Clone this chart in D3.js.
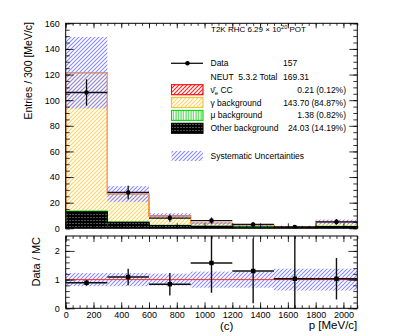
<!DOCTYPE html>
<html>
<head>
<meta charset="utf-8">
<script src="https://cdn.jsdelivr.net/npm/d3@7"></script>
<style>
  body { margin: 0; background: #fff; }
  svg { font-family: "Liberation Sans", Arial, sans-serif; }
</style>
</head>
<body>
<svg id="chart" width="411" height="336"></svg>
<script>
// bins of 300 MeV/c
const binEdges = [0, 300, 600, 900, 1200, 1500, 1800, 2100];

// data and MC stack
const dataCounts = [106, 28, 8, 6, 3, 1, 5];
const dataErr = [10.3, 5.3, 2.8, 2.4, 1.7, 1.0, 2.2];
const otherBkg = [12.8, 4.6, 2.2, 1.5, 1.0, 0.6, 1.4];
const muBkg = [0.6, 0.3, 0.15, 0.1, 0.08, 0.05, 0.1];
const gammaBkg = [108.0, 21.8, 7.3, 2.2, 1.2, 0.34, 3.4];
const nueCC = [0.06, 0.05, 0.03, 0.02, 0.02, 0.01, 0.02];
const sysRel = [0.23, 0.23, 0.21, 0.28, 0.28, 0.38, 0.38];

// ratio panel
const ratioVal = [0.89, 1.09, 0.84, 1.58, 1.30, 1.03, 1.03];
const ratioLo = [0.79, 0.80, 0.45, 0.54, 0.18, 0.0, 0.31];
const ratioHi = [0.99, 1.38, 1.23, 2.70, 2.43, 2.60, 1.75];

// legend
const legendLabels = ["Data", "NEUT\u00a0 5.3.2 Total", "nue", "\u03b3 background",
  "\u03bc background", "Other background", "Systematic Uncertainties"];
const legendValues = ["157", "169.31", "0.21 (0.12%)", "143.70 (84.87%)",
  "1.38 (0.82%)", "24.03 (14.19%)", ""];

const svg = d3.select("#chart");
const X0 = 65.7, X1 = 357.3;
const x = d3.scaleLinear().domain([0, 2100]).range([X0, X1]);
const yTop = d3.scaleLinear().domain([0, 160]).range([228.3, 23.3]);
const yRat = d3.scaleLinear().domain([0, 2.52]).range([308.3, 236]);

// ---- hatch patterns
const defs = svg.append("defs");
function hatch(id, color, w) {
  const p = defs.append("pattern").attr("id", id)
    .attr("patternUnits", "userSpaceOnUse").attr("width", 4).attr("height", 4);
  p.append("path").attr("d", "M0,4 L4,0 M-1,1 L1,-1 M3,5 L5,3")
    .attr("fill", "none").attr("stroke", color).attr("stroke-width", w);
}
hatch("hYellow", "#ffd464", 1.1);
hatch("hRed", "#ff2020", 1.1);
hatch("hBlue", "#8787ff", 1.05);
const pg = defs.append("pattern").attr("id", "hGreen")
  .attr("patternUnits", "userSpaceOnUse").attr("width", 2.5).attr("height", 4);
pg.append("path").attr("d", "M1,0 V4").attr("stroke", "#22cc22").attr("stroke-width", 0.9);
const pb = defs.append("pattern").attr("id", "hBlack")
  .attr("patternUnits", "userSpaceOnUse").attr("width", 3).attr("height", 3);
pb.append("rect").attr("width", 3).attr("height", 3).attr("fill", "#000");
pb.append("rect").attr("x", 0).attr("y", 1).attr("width", 2).attr("height", 0.8).attr("fill", "#666");

defs.append("clipPath").attr("id", "clipTop").append("rect")
  .attr("x", X0).attr("y", 23.3).attr("width", X1 - X0).attr("height", 228.3 - 23.3);
defs.append("clipPath").attr("id", "clipRat").append("rect")
  .attr("x", X0).attr("y", 236).attr("width", X1 - X0).attr("height", 308.3 - 236);

const bins = d3.range(dataCounts.length);

// ---- stack
const layers = [
  { vals: otherBkg, fill: "url(#hBlack)", line: "#000" },
  { vals: muBkg, fill: "url(#hGreen)", line: "#00dd00" },
  { vals: gammaBkg, fill: "url(#hYellow)", line: "#ffbf2e" },
  { vals: nueCC, fill: "url(#hRed)", line: "#ff0000" }
];
let base = bins.map(() => 0);
layers.forEach(l => {
  l.base = base.slice();
  l.top = bins.map(i => base[i] + l.vals[i]);
  base = l.top;
});
const mcTotal = base;

const topPad = svg.append("g").attr("clip-path", "url(#clipTop)");
layers.forEach(l => {
  topPad.append("g").selectAll("rect").data(bins).join("rect")
    .attr("x", i => x(binEdges[i]))
    .attr("width", i => x(binEdges[i + 1]) - x(binEdges[i]))
    .attr("y", i => yTop(l.top[i]))
    .attr("height", i => yTop(l.base[i]) - yTop(l.top[i]))
    .attr("fill", l.fill);
});

const stepLine = d3.line().x(d => x(d[0])).y(d => yTop(d[1]));
function stepPts(v) {
  const pts = [[binEdges[0], 0]];
  v.forEach((d, i) => { pts.push([binEdges[i], d], [binEdges[i + 1], d]); });
  pts.push([binEdges[binEdges.length - 1], 0]);
  return pts;
}
layers.slice().reverse().forEach(l => {
  topPad.append("path").attr("d", stepLine(stepPts(l.top)))
    .attr("fill", "none").attr("stroke", l.line).attr("stroke-width", 1.1);
});

// systematic band
topPad.append("g").selectAll("rect").data(bins).join("rect")
  .attr("x", i => x(binEdges[i]))
  .attr("width", i => x(binEdges[i + 1]) - x(binEdges[i]))
  .attr("y", i => yTop(mcTotal[i] * (1 + sysRel[i])))
  .attr("height", i => yTop(mcTotal[i] * (1 - sysRel[i])) - yTop(mcTotal[i] * (1 + sysRel[i])))
  .attr("fill", "url(#hBlue)");

// data points
const mid = i => (binEdges[i] + binEdges[i + 1]) / 2;
const pts = topPad.append("g").attr("stroke", "#111").attr("stroke-width", 1.3);
pts.selectAll(".h").data(bins).join("line").attr("class", "h")
  .attr("x1", i => x(binEdges[i])).attr("x2", i => x(binEdges[i + 1]))
  .attr("y1", i => yTop(dataCounts[i])).attr("y2", i => yTop(dataCounts[i]));
pts.selectAll(".v").data(bins).join("line").attr("class", "v")
  .attr("x1", i => x(mid(i))).attr("x2", i => x(mid(i)))
  .attr("y1", i => yTop(dataCounts[i] - dataErr[i])).attr("y2", i => yTop(dataCounts[i] + dataErr[i]));
topPad.append("g").selectAll("circle").data(bins).join("circle")
  .attr("cx", i => x(mid(i))).attr("cy", i => yTop(dataCounts[i]))
  .attr("r", 2.3).attr("fill", "#000");

// ---- ratio panel
const rat = svg.append("g").attr("clip-path", "url(#clipRat)");
rat.append("g").selectAll("rect").data(bins).join("rect")
  .attr("x", i => x(binEdges[i]))
  .attr("width", i => x(binEdges[i + 1]) - x(binEdges[i]))
  .attr("y", i => yRat(1 + sysRel[i]))
  .attr("height", i => yRat(1 - sysRel[i]) - yRat(1 + sysRel[i]))
  .attr("fill", "url(#hBlue)");
rat.append("line").attr("x1", X0).attr("x2", X1)
  .attr("y1", yRat(1)).attr("y2", yRat(1))
  .attr("stroke", "#ff2a2a").attr("stroke-width", 1);
const rp = rat.append("g").attr("stroke", "#111").attr("stroke-width", 1.4);
rp.selectAll(".h").data(bins).join("line").attr("class", "h")
  .attr("x1", i => x(binEdges[i])).attr("x2", i => x(binEdges[i + 1]))
  .attr("y1", i => yRat(ratioVal[i])).attr("y2", i => yRat(ratioVal[i]));
rp.selectAll(".v").data(bins).join("line").attr("class", "v")
  .attr("x1", i => x(mid(i))).attr("x2", i => x(mid(i)))
  .attr("y1", i => yRat(ratioLo[i])).attr("y2", i => yRat(ratioHi[i]));
rat.append("g").selectAll("rect").data(bins).join("rect")
  .attr("x", i => x(mid(i)) - 2.2).attr("y", i => yRat(ratioVal[i]) - 2.2)
  .attr("width", 4.4).attr("height", 4.4).attr("fill", "#000");

// ---- axes (ROOT style: ticks inside on all four sides)
function axis(gen, tx, ty, vals, size, fmt) {
  const g = svg.append("g").attr("transform", `translate(${tx},${ty})`)
    .call(gen.tickValues(vals).tickSize(-size).tickSizeOuter(0)
      .tickPadding(6).tickFormat(fmt || (() => "")));
  g.select(".domain").remove();
  g.selectAll("line").attr("stroke", "#000").attr("stroke-width", 0.8);
  g.attr("font-size", 9).attr("font-family", null);
  g.selectAll("text").attr("fill", "#000");
  return g;
}
const xMaj = d3.range(0, 2101, 200), xMin = d3.range(0, 2101, 50);
const yMaj = d3.range(0, 161, 20), yMin = d3.range(0, 161, 5);
const rMaj = [0, 1, 2], rMin = d3.range(0, 13).map(i => i * 0.2);

// top pad
axis(d3.axisLeft(yTop), X0, 0, yMin, 4);
axis(d3.axisLeft(yTop), X0, 0, yMaj, 8, d3.format("d"));
axis(d3.axisRight(yTop), X1, 0, yMin, 4);
axis(d3.axisRight(yTop), X1, 0, yMaj, 8);
axis(d3.axisBottom(x), 0, yTop(0), xMin, 2.5);
axis(d3.axisBottom(x), 0, yTop(0), xMaj, 5);
axis(d3.axisTop(x), 0, yTop(160), xMin, 2.5);
axis(d3.axisTop(x), 0, yTop(160), xMaj, 5);

// ratio pad
axis(d3.axisLeft(yRat), X0, 0, rMin, 4);
axis(d3.axisLeft(yRat), X0, 0, rMaj, 9, d3.format("d"));
axis(d3.axisRight(yRat), X1, 0, rMin, 4);
axis(d3.axisRight(yRat), X1, 0, rMaj, 9);
axis(d3.axisBottom(x), 0, yRat(0), xMin, 3);
const xb = axis(d3.axisBottom(x), 0, yRat(0), xMaj, 6, d3.format("d"));
xb.selectAll("text").attr("y", 3);
axis(d3.axisTop(x), 0, 236, xMin, 3);
axis(d3.axisTop(x), 0, 236, xMaj, 6);

// frames
svg.append("rect").attr("x", X0).attr("y", 23.3).attr("width", X1 - X0).attr("height", 228.3 - 23.3)
  .attr("fill", "none").attr("stroke", "#000").attr("stroke-width", 1);
svg.append("rect").attr("x", X0).attr("y", 236).attr("width", X1 - X0).attr("height", 308.3 - 236)
  .attr("fill", "none").attr("stroke", "#000").attr("stroke-width", 1);

// axis titles
svg.append("text").attr("transform", "translate(31.5,22) rotate(-90)")
  .attr("text-anchor", "end").attr("font-size", 10.5).text("Entries / 300 [MeV/c]");
svg.append("text").attr("transform", "translate(39.5,237) rotate(-90)")
  .attr("text-anchor", "end").attr("font-size", 11).text("Data / MC");
svg.append("text").attr("x", X1).attr("y", 328.5)
  .attr("text-anchor", "end").attr("font-size", 11.5).text("p [MeV/c]");
svg.append("text").attr("x", 226.7).attr("y", 329.5)
  .attr("text-anchor", "middle").attr("font-size", 11.5).text("(c)");

// title
const title = svg.append("text").attr("x", 211).attr("y", 31.5).attr("font-size", 8);
title.append("tspan").text("T2K RHC 6.29 \u00d7 10");
title.append("tspan").attr("dy", -3).attr("font-size", 5.6).text("20");
title.append("tspan").attr("dy", 3).text(" POT");

// ---- legend
const legRows = [63.3, 76.7, 89.7, 102.5, 115.4, 128.3, 156];
const legBoxes = [null, null,
  { fill: "url(#hRed)", stroke: "#ff0000" },
  { fill: "url(#hYellow)", stroke: "#ffbf2e" },
  { fill: "url(#hGreen)", stroke: "#00dd00" },
  { fill: "url(#hBlack)", stroke: "#000" },
  { fill: "url(#hBlue)", stroke: "none" }];
const leg = svg.append("g").attr("font-size", 8.5);
legRows.forEach((yy, k) => {
  if (k === 0) {
    leg.append("line").attr("x1", 171).attr("x2", 203).attr("y1", yy).attr("y2", yy)
      .attr("stroke", "#111").attr("stroke-width", 1.3);
    leg.append("circle").attr("cx", 187.5).attr("cy", yy).attr("r", 2.3);
  } else if (legBoxes[k]) {
    leg.append("rect").attr("x", 171.5).attr("y", yy - 5).attr("width", 31.5).attr("height", 10)
      .attr("fill", legBoxes[k].fill).attr("stroke", legBoxes[k].stroke).attr("stroke-width", 1.1);
  }
  const t = leg.append("text").attr("x", 210.5).attr("y", yy + 3);
  if (legendLabels[k] === "nue") {
    t.append("tspan").text("\u03bd\u0304");
    t.append("tspan").attr("font-size", 6).attr("dy", 2).text("e");
    t.append("tspan").attr("dy", -2).text(" CC");
  } else {
    t.text(legendLabels[k]);
  }
  if (k < 2) {
    leg.append("text").attr("x", 283).attr("y", yy + 3).text(legendValues[k]);
  } else if (legendValues[k]) {
    leg.append("text").attr("x", 346).attr("y", yy + 3).attr("text-anchor", "end").text(legendValues[k]);
  }
});
</script>
</body>
</html>
